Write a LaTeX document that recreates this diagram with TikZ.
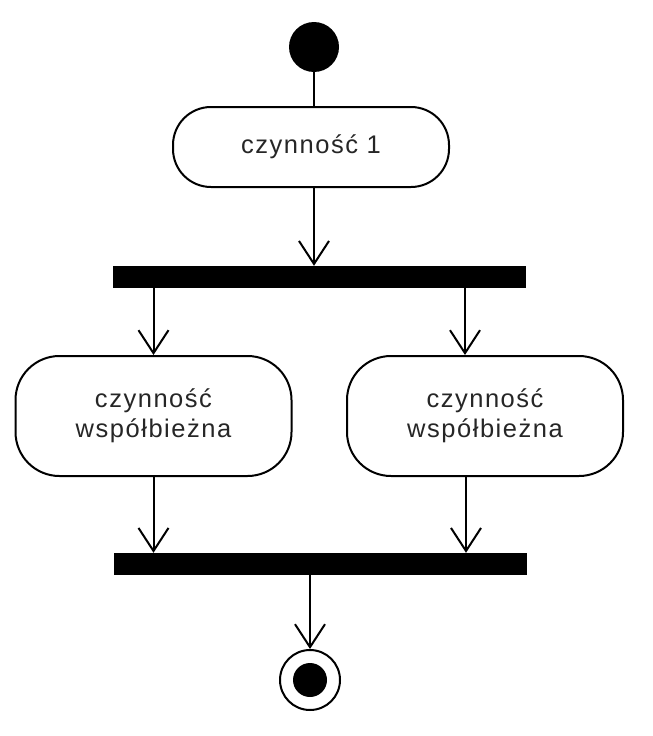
\documentclass[tikz,border=0pt]{standalone}
\usepackage{fontspec}
\setmainfont[LetterSpace=6]{Liberation Sans}
\usetikzlibrary{arrows.meta}
\tikzset{
  activity/.style={draw,line width=2pt,rounded corners=44pt,minimum width=276pt,
    align=center,font=\fontsize{25.5}{30}\selectfont,text=black!85,inner sep=0pt},
  bar/.style={fill=black,draw=black,minimum width=412pt,minimum height=21pt,inner sep=0pt},
  flow/.style={line width=2pt,-{Straight Barb[length=23pt,width=30pt]}}
}
\begin{document}
\begin{tikzpicture}[x=1pt,y=1pt]
  \useasboundingbox (0,0) rectangle (653,-736);
  \node[circle,fill=black,minimum size=50pt,inner sep=0pt] (start) at (314,-47) {};
  \node[activity,minimum height=80pt,rounded corners=38pt] (act1) at (311,-147) {czynność 1};
  \node[bar] (fork) at (319.5,-276.5) {};
  \node[activity,minimum height=120pt] (left) at (153.5,-416) {czynność\\współbieżna};
  \node[activity,minimum height=120pt] (right) at (485,-416) {czynność\\współbieżna};
  \node[bar] (join) at (320.5,-563.5) {};
  \node[circle,draw,line width=2pt,minimum size=60pt,inner sep=0pt] (end) at (310,-680) {};
  \fill (end) circle (17pt);

  \draw[line width=2pt] (start.south) -- (start.south |- act1.north);
  \draw[flow] (act1.south -| start) -- (start |- fork.north);
  \draw[flow] (left.north |- fork.south) -- (left.north);
  \draw[flow] ([xshift=-20pt]right.north |- fork.south) -- ([xshift=-20pt]right.north);
  \draw[flow] (left.south) -- (left.south |- join.north);
  \draw[flow] ([xshift=-19pt]right.south) -- ([xshift=-19pt]right.south |- join.north);
  \draw[flow] (join.south -| end) -- (end.north);
\end{tikzpicture}
\end{document}
